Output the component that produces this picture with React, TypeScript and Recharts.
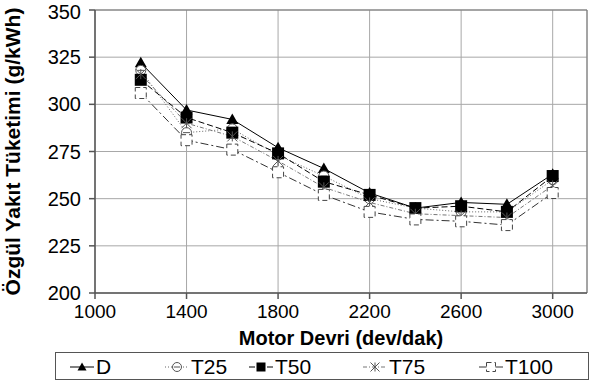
import { LineChart, Line, XAxis, YAxis, CartesianGrid, ReferenceLine } from "recharts";

const rpm = [1200, 1400, 1600, 1800, 2000, 2200, 2400, 2600, 2800, 3000];
const dSeries = [322, 297, 292, 277, 266, 253, 245, 248, 247, 263];
const t25 = [318, 285, 287, 273, 262, 250, 245, 243, 243, 260];
const t50 = [313, 293, 285, 274, 259, 252, 245, 246, 243, 262];
const t75 = [316, 290, 283, 270, 256, 248, 242, 241, 240, 257];
const t100 = [306, 281, 276, 264, 252, 243, 239, 238, 236, 253];

const xTicks = [1000, 1400, 1800, 2200, 2600, 3000];
const yTicks = [200, 225, 250, 275, 300, 325, 350];

const data = rpm.map((r, i) => ({
  rpm: r,
  D: dSeries[i],
  T25: t25[i],
  T50: t50[i],
  T75: t75[i],
  T100: t100[i],
}));

const FONT = "'Liberation Sans', Arial, sans-serif";

// marker shapes
function Tri({ cx, cy, s = 6 }: any) {
  return <path d={`M${cx},${cy - s} L${cx + s},${cy + s * 0.75} L${cx - s},${cy + s * 0.75} Z`} fill="#000" />;
}
function Circ({ cx, cy, s = 5 }: any) {
  return (
    <g>
      <circle cx={cx} cy={cy} r={s} fill="#fff" stroke="#555" strokeWidth={1} />
      <line x1={cx - s + 1.5} x2={cx + s - 1.5} y1={cy} y2={cy} stroke="#555" strokeWidth={1} />
    </g>
  );
}
function Sq({ cx, cy, s = 6 }: any) {
  return <rect x={cx - s} y={cy - s} width={s * 2} height={s * 2} fill="#000" />;
}
function Star({ cx, cy, s = 5 }: any) {
  return (
    <g stroke="#555" strokeWidth={1}>
      <line x1={cx - s} x2={cx + s} y1={cy - s} y2={cy + s} />
      <line x1={cx - s} x2={cx + s} y1={cy + s} y2={cy - s} />
      <line x1={cx} x2={cx} y1={cy - s} y2={cy + s} />
    </g>
  );
}
function OpenSq({ cx, cy, s = 5.5 }: any) {
  return (
    <rect x={cx - s} y={cy - s} width={s * 2} height={s * 2} fill="#fff" stroke="#444" strokeWidth={1} strokeDasharray="5 3" />
  );
}

const dot = (Shape: any) => (p: any) => <Shape key={p.index} cx={p.cx} cy={p.cy} />;

function LegendItem({ x, label, Shape, dash, color }: any) {
  return (
    <div style={{ position: "absolute", left: x, top: 0, display: "flex", alignItems: "center", height: 28 }}>
      <svg width={24} height={20}>
        <line x1={0} x2={24} y1={10} y2={10} stroke={color} strokeWidth={1} strokeDasharray={dash} />
        <Shape cx={12} cy={10} s={4.5} />
      </svg>
      <span style={{ fontSize: 21, marginLeft: 2 }}>{label}</span>
    </div>
  );
}

export default function App() {
  return (
    <div style={{ position: "absolute", left: 0, top: 0, width: 598, height: 387, background: "#fff", fontFamily: FONT }}>
      <LineChart width={598} height={387} data={data} margin={{ top: 10, right: 11, left: 0, bottom: 44 }}>
        <CartesianGrid stroke="#a8a8a8" strokeWidth={1} />
        <XAxis
          dataKey="rpm"
          type="number"
          domain={[1000, 3150]}
          ticks={xTicks}
          stroke="#555"
          strokeWidth={1.5}
          tickSize={6}
          tickMargin={6}
          tick={{ fill: "#000", fontSize: 19, fontFamily: FONT }}
          height={50}
          label={{ value: "Motor Devri (dev/dak)", position: "insideBottom", offset: -2, fill: "#000", fontSize: 20, fontWeight: "bold", fontFamily: FONT }}
        />
        <YAxis
          type="number"
          domain={[200, 350]}
          ticks={yTicks}
          stroke="#555"
          strokeWidth={1.5}
          tickSize={6}
          tickMargin={8}
          width={95}
          tick={{ fill: "#000", fontSize: 20, fontFamily: FONT }}
          label={{ value: "Özgül Yakıt Tüketimi  (g/kWh)", angle: -90, position: "insideLeft", offset: 13, fill: "#000", fontSize: 21, fontWeight: "bold", fontFamily: FONT, style: { textAnchor: "middle" } }}
        />
        <ReferenceLine y={350} stroke="#777" />
        <ReferenceLine x={3150} stroke="#777" />
        <Line dataKey="D" stroke="#000" strokeWidth={1} dot={dot(Tri)} isAnimationActive={false} />
        <Line dataKey="T25" stroke="#666" strokeWidth={1} strokeDasharray="1 2" dot={dot(Circ)} isAnimationActive={false} />
        <Line dataKey="T50" stroke="#000" strokeWidth={1} strokeDasharray="6 3" dot={dot(Sq)} isAnimationActive={false} />
        <Line dataKey="T75" stroke="#777" strokeWidth={1} strokeDasharray="4 2 1 2" dot={dot(Star)} isAnimationActive={false} />
        <Line dataKey="T100" stroke="#333" strokeWidth={1} strokeDasharray="8 3 2 3" dot={dot(OpenSq)} isAnimationActive={false} />
      </LineChart>
      <div style={{ position: "absolute", left: 55, top: 352, width: 534, height: 28, border: "1px solid #555", boxSizing: "border-box" }}>
        <LegendItem x={14} label="D" Shape={Tri} color="#000" />
        <LegendItem x={109} label="T25" Shape={Circ} dash="1 2" color="#666" />
        <LegendItem x={193} label="T50" Shape={Sq} dash="6 3" color="#000" />
        <LegendItem x={307} label="T75" Shape={Star} dash="4 2 1 2" color="#777" />
        <LegendItem x={423} label="T100" Shape={OpenSq} dash="8 3 2 3" color="#333" />
      </div>
    </div>
  );
}
